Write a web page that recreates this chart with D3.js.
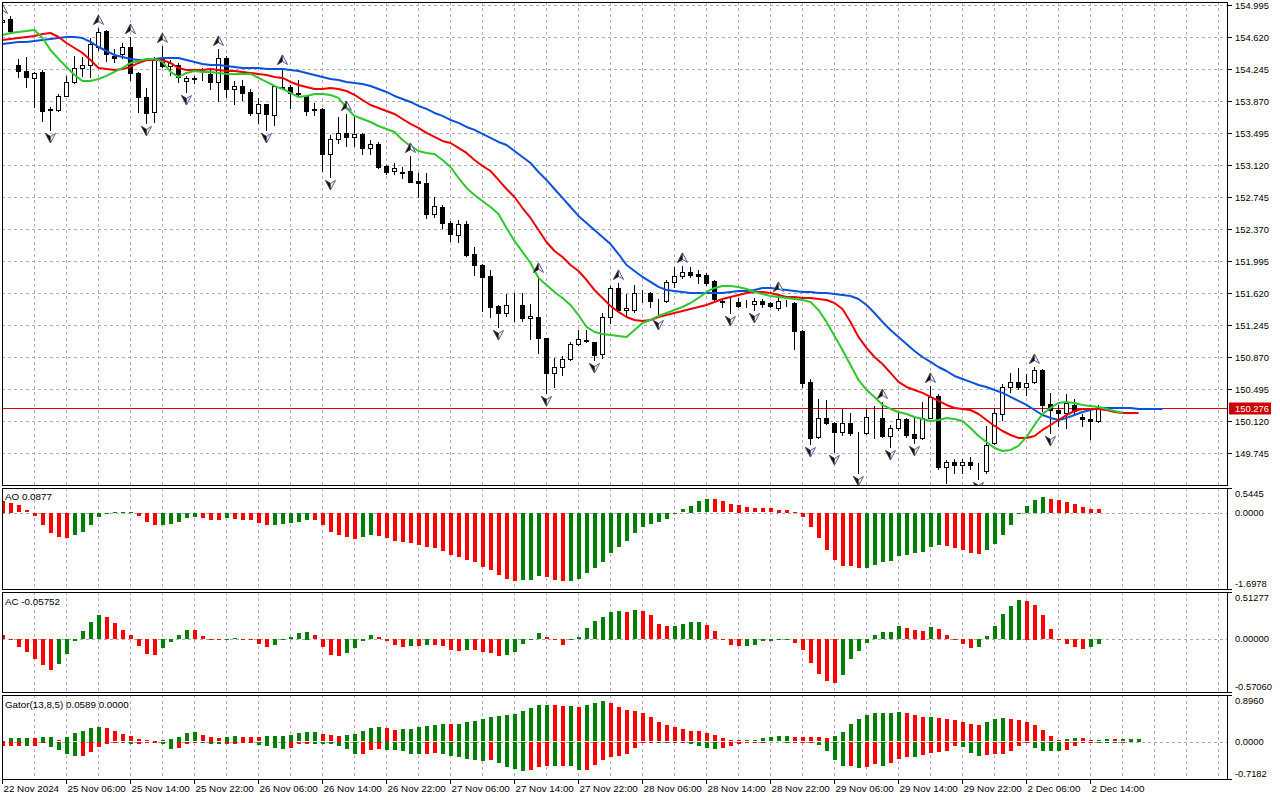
<!DOCTYPE html>
<html><head><meta charset="utf-8">
<script src="https://cdn.jsdelivr.net/npm/d3@7"></script>
<style>
html,body{margin:0;padding:0;background:#fff;}
svg{display:block;}
text{font-family:"Liberation Sans",Arial,sans-serif;}
</style></head><body>
<svg id="chart" width="1280" height="800"></svg>
<script>
// ---------------- data ----------------
const timeLabels = ["22 Nov 2024","25 Nov 06:00","25 Nov 14:00","25 Nov 22:00","26 Nov 06:00","26 Nov 14:00","26 Nov 22:00","27 Nov 06:00","27 Nov 14:00","27 Nov 22:00","28 Nov 06:00","28 Nov 14:00","28 Nov 22:00","29 Nov 06:00","29 Nov 14:00","29 Nov 22:00","2 Dec 06:00","2 Dec 14:00"];
const timeLabelBars = [0,8,16,24,32,40,48,56,64,72,80,88,96,104,112,120,128,136];
const priceTicks = [154.995,154.620,154.245,153.870,153.495,153.120,152.745,152.370,151.995,151.620,151.245,150.870,150.495,150.120,149.745];
const lastPrice = 150.276;

const openP = [154.796,154.831,154.292,154.222,154.140,154.210,153.777,153.765,153.929,154.093,
154.257,154.292,154.503,154.691,154.398,154.421,154.503,154.199,153.917,153.741,
154.363,154.281,154.292,154.105,154.140,154.140,154.187,154.093,154.374,154.011,
154.046,153.976,153.730,153.835,153.706,154.034,154.034,153.964,153.929,153.777,
153.777,153.249,153.425,153.495,153.449,153.484,153.320,153.366,153.109,153.050,
153.027,153.050,152.933,152.909,152.546,152.628,152.441,152.300,152.429,152.077,
151.948,151.820,151.468,151.386,151.480,151.480,151.327,151.339,151.093,150.683,
150.753,150.847,151.023,151.069,151.046,150.906,151.339,151.679,151.421,151.421,
151.620,151.620,151.538,151.527,151.749,151.820,151.866,151.843,151.831,151.761,
151.527,151.515,151.515,151.491,151.491,151.527,151.503,151.445,151.503,151.503,
151.175,150.577,149.933,150.156,150.097,149.991,150.097,149.980,149.980,150.167,
150.156,149.945,150.038,150.144,149.968,149.921,150.156,150.413,149.581,149.640,
149.605,149.640,149.534,149.534,149.863,150.202,150.519,150.577,150.519,150.577,
150.718,150.319,150.249,150.214,150.308,150.167,150.144,150.120];
const highP = [154.855,154.866,154.363,154.386,154.210,154.234,153.800,153.952,154.163,154.398,
154.386,154.609,154.726,154.702,154.480,154.550,154.620,154.210,154.023,154.386,
154.515,154.351,154.316,154.163,154.163,154.257,154.257,154.480,154.398,154.105,
154.117,154.011,153.906,153.840,154.050,154.257,154.058,154.117,153.941,153.847,
153.788,153.472,153.683,153.718,153.683,153.495,153.413,153.390,153.120,153.144,
153.097,153.226,153.027,153.027,152.745,152.652,152.464,152.476,152.464,152.160,
151.955,151.890,151.480,151.609,151.620,151.620,151.491,151.820,151.098,150.859,
150.882,151.046,151.187,151.187,151.050,151.386,151.702,151.738,151.609,151.714,
151.655,151.632,151.550,151.773,151.925,151.937,151.925,151.890,151.855,151.773,
151.562,151.562,151.562,151.538,151.562,151.550,151.515,151.597,151.538,151.515,
151.187,150.612,150.378,150.366,150.109,150.261,150.214,149.991,150.273,150.296,
150.343,150.073,150.226,150.156,150.156,150.343,150.531,150.437,149.663,149.675,
149.675,149.698,149.628,150.062,150.273,150.554,150.683,150.741,150.671,150.753,
150.730,150.448,150.308,150.437,150.378,150.202,150.273,150.308];
const lowP = [154.773,154.667,154.152,154.034,153.800,153.636,153.531,153.753,153.925,154.081,
154.163,154.152,154.468,154.339,154.327,154.374,154.117,153.741,153.613,153.624,
154.269,154.175,154.093,153.976,154.081,154.117,154.011,153.870,153.917,153.835,
153.882,153.706,153.613,153.531,153.589,154.011,153.788,153.917,153.706,153.706,
153.050,152.980,153.378,153.343,153.343,153.249,153.249,153.085,153.015,153.015,
152.968,152.915,152.745,152.499,152.511,152.382,152.230,152.218,152.054,151.831,
151.409,151.339,151.222,151.351,151.292,151.292,151.081,150.917,150.448,150.519,
150.659,150.835,151.011,151.046,150.835,150.859,151.269,151.398,151.339,151.398,
151.515,151.456,151.339,151.515,151.691,151.796,151.808,151.738,151.714,151.538,
151.456,151.386,151.456,151.456,151.421,151.456,151.456,151.421,151.468,150.964,
150.519,149.851,149.915,150.085,149.757,149.956,149.956,149.511,149.968,149.921,
149.933,149.816,150.015,149.933,149.863,149.910,150.150,149.558,149.394,149.511,
149.511,149.558,149.441,149.511,149.851,150.132,150.460,150.495,150.425,150.566,
150.237,149.980,150.062,150.038,150.214,150.062,149.909,150.109];
const closeP = [154.820,154.691,154.222,154.152,154.199,153.753,153.765,153.929,154.093,154.257,
154.292,154.538,154.679,154.421,154.374,154.503,154.199,153.917,153.730,154.363,
154.281,154.316,154.152,154.140,154.128,154.135,154.093,154.374,154.011,154.046,
153.964,153.730,153.835,153.718,154.046,154.023,153.964,153.952,153.753,153.765,
153.249,153.425,153.495,153.449,153.484,153.320,153.366,153.097,153.038,153.085,
153.038,152.921,152.909,152.546,152.640,152.441,152.312,152.429,152.066,151.948,
151.808,151.456,151.386,151.480,151.475,151.327,151.351,151.093,150.683,150.753,
150.847,151.023,151.081,151.058,150.894,151.339,151.679,151.421,151.445,151.620,
151.615,151.527,151.533,151.749,151.820,151.866,151.831,151.820,151.738,151.550,
151.515,151.510,151.468,151.487,151.527,151.491,151.468,151.527,151.499,151.175,
150.566,149.921,150.156,150.097,149.991,150.097,149.980,149.975,150.167,150.162,
149.945,150.038,150.144,149.956,149.921,150.156,150.402,149.581,149.640,149.605,
149.640,149.605,149.530,149.839,150.214,150.519,150.577,150.519,150.566,150.718,
150.308,150.249,150.214,150.331,150.237,150.144,150.120,150.276];

// Alligator (already shifted forward: jaw 8, teeth 5, lips 3 bars)
const jaw = [154.538,154.550,154.562,154.562,154.573,154.585,154.597,154.608,154.620,154.620,
154.608,154.562,154.503,154.456,154.409,154.386,154.363,154.351,154.351,154.363,
154.374,154.374,154.374,154.351,154.328,154.304,154.292,154.292,154.281,154.269,
154.257,154.257,154.257,154.246,154.246,154.246,154.234,154.222,154.199,154.175,
154.152,154.128,154.116,154.093,154.081,154.069,154.046,154.011,153.976,153.929,
153.894,153.859,153.812,153.777,153.730,153.695,153.648,153.613,153.566,153.531,
153.484,153.437,153.390,153.355,153.284,153.214,153.144,153.038,152.945,152.839,
152.734,152.628,152.523,152.441,152.359,152.277,152.194,152.077,151.948,151.878,
151.808,151.750,151.691,151.655,151.643,151.632,151.620,151.620,151.620,151.620,
151.620,151.632,151.643,151.643,151.655,151.679,151.679,151.667,151.655,151.643,
151.632,151.632,151.620,151.620,151.608,151.597,151.585,151.550,151.480,151.386,
151.281,151.187,151.105,151.023,150.940,150.870,150.812,150.753,150.706,150.648,
150.612,150.578,150.542,150.519,150.484,150.449,150.402,150.355,150.308,150.249,
150.190,150.156,150.132,150.156,150.190,150.226,150.249,150.273,150.273,150.273,
150.273,150.273,150.261,150.261,150.261,150.261];
const teeth = [154.585,154.597,154.608,154.620,154.632,154.655,154.667,154.620,154.550,154.491,
154.433,154.351,154.257,154.246,154.234,154.246,154.269,154.316,154.351,154.351,
154.351,154.316,154.257,154.234,154.234,154.234,154.246,154.234,154.222,154.222,
154.211,154.199,154.187,154.175,154.152,154.140,154.093,154.058,154.034,154.011,
154.011,154.022,154.011,153.987,153.941,153.882,153.823,153.788,153.753,153.718,
153.659,153.601,153.554,153.496,153.449,153.402,153.378,153.320,153.261,153.179,
153.109,153.050,152.945,152.839,152.745,152.616,152.499,152.359,152.218,152.112,
152.042,151.948,151.878,151.773,151.655,151.562,151.468,151.398,151.339,151.304,
151.292,151.304,151.339,151.362,151.386,151.409,151.433,151.456,151.480,151.515,
151.550,151.573,151.597,151.620,151.632,151.632,151.620,151.597,151.573,151.573,
151.562,151.562,151.550,151.538,151.503,151.433,151.281,151.105,150.976,150.870,
150.788,150.683,150.578,150.519,150.484,150.449,150.402,150.355,150.308,150.273,
150.261,150.249,150.202,150.132,150.062,150.003,149.956,149.921,149.921,149.945,
150.015,150.073,150.132,150.190,150.237,150.261,150.261,150.261,150.249,150.226,
150.214,150.214,150.214];
const lips = [154.644,154.667,154.679,154.691,154.702,154.608,154.468,154.363,154.269,154.175,
154.105,154.105,154.128,154.164,154.211,154.257,154.316,154.339,154.363,154.363,
154.328,154.211,154.152,154.199,154.222,154.211,154.211,154.199,154.187,154.187,
154.187,154.187,154.140,154.093,154.046,154.011,153.964,153.917,153.929,153.952,
153.952,153.941,153.906,153.788,153.695,153.659,153.624,153.577,153.542,153.507,
153.413,153.343,153.284,153.261,153.249,153.179,153.097,152.968,152.851,152.769,
152.698,152.628,152.546,152.382,152.230,152.101,151.972,151.796,151.714,151.632,
151.562,151.480,151.362,151.222,151.163,151.140,151.128,151.116,151.105,151.187,
151.269,151.304,151.351,151.386,151.421,151.456,151.503,151.562,151.632,151.679,
151.702,151.702,151.691,151.667,151.632,151.608,151.585,151.573,151.562,151.550,
151.538,151.515,151.421,151.281,151.116,150.952,150.777,150.601,150.484,150.402,
150.308,150.261,150.226,150.202,150.167,150.144,150.120,150.132,150.156,150.144,
150.120,150.038,149.945,149.874,149.804,149.769,149.781,149.828,149.933,150.073,
150.202,150.273,150.331,150.343,150.331,150.308,150.296,150.284,150.261,150.237,
150.214];

const fractalUp = [0,12,16,20,27,35,43,51,67,77,85,97,110,116,129];
const fractalDown = [6,18,23,33,41,62,68,74,82,91,94,101,104,107,111,114,118,122,131];

const aoPrev = 0.29;
const ao = [0.259,0.222,0.163,0.052,-0.074,-0.259,-0.451,-0.525,-0.548,-0.481,
-0.414,-0.259,-0.096,-0.004,0.004,0.006,0.020,-0.074,-0.207,-0.274,
-0.259,-0.255,-0.192,-0.118,-0.096,-0.118,-0.163,-0.165,-0.118,-0.141,
-0.145,-0.163,-0.215,-0.274,-0.270,-0.252,-0.229,-0.200,-0.145,-0.160,
-0.274,-0.414,-0.496,-0.525,-0.570,-0.540,-0.481,-0.503,-0.548,-0.614,
-0.644,-0.659,-0.718,-0.747,-0.777,-0.836,-0.925,-0.984,-1.036,-1.080,
-1.191,-1.265,-1.369,-1.458,-1.502,-1.487,-1.480,-1.391,-1.428,-1.482,
-1.517,-1.502,-1.458,-1.339,-1.214,-1.080,-0.895,-0.747,-0.618,-0.437,
-0.311,-0.237,-0.192,-0.126,-0.030,0.074,0.155,0.252,0.296,0.290,
0.252,0.185,0.170,0.118,0.096,0.094,0.092,0.067,0.065,0.022,
-0.089,-0.311,-0.555,-0.814,-1.036,-1.177,-1.185,-1.222,-1.215,-1.147,
-1.088,-1.066,-0.955,-0.925,-0.895,-0.866,-0.755,-0.703,-0.733,-0.770,
-0.821,-0.881,-0.903,-0.814,-0.688,-0.481,-0.259,-0.030,0.155,0.281,
0.348,0.303,0.281,0.237,0.200,0.133,0.089,0.0877];

const acPrev = 0.08;
const ac = [0.046,0.002,-0.082,-0.137,-0.217,-0.279,-0.337,-0.272,-0.162,-0.027,
0.086,0.184,0.264,0.243,0.173,0.100,0.046,-0.071,-0.162,-0.170,
-0.097,-0.035,0.046,0.100,0.098,0.035,0.002,-0.009,0.009,0.011,
-0.002,-0.005,-0.053,-0.082,-0.060,-0.013,0.024,0.067,0.082,0.046,
-0.082,-0.170,-0.181,-0.151,-0.097,-0.027,0.046,0.024,-0.020,-0.064,
-0.082,-0.075,-0.078,-0.060,-0.062,-0.071,-0.119,-0.126,-0.120,-0.122,
-0.144,-0.150,-0.181,-0.178,-0.137,-0.053,-0.005,0.067,0.024,-0.016,
-0.060,-0.016,0.024,0.122,0.195,0.246,0.301,0.305,0.298,0.318,
0.308,0.264,0.166,0.144,0.146,0.166,0.188,0.190,0.155,0.089,
0.002,-0.064,-0.075,-0.072,-0.060,-0.027,-0.020,-0.002,0.002,-0.038,
-0.119,-0.257,-0.378,-0.458,-0.480,-0.392,-0.213,-0.126,-0.038,0.046,
0.078,0.080,0.144,0.119,0.100,0.093,0.133,0.111,0.046,0.002,
-0.049,-0.093,-0.082,0.035,0.144,0.275,0.363,0.429,0.418,0.374,
0.264,0.111,-0.002,-0.049,-0.082,-0.104,-0.082,-0.05752];

const gatorUpPrev = 0.01;
const gatorUp = [0.006,0.070,0.070,0.071,0.068,0.090,0.092,0.026,0.090,0.160,
0.211,0.263,0.282,0.263,0.199,0.141,0.102,0.045,0.026,0.006,
0.026,0.051,0.090,0.160,0.179,0.122,0.090,0.064,0.090,0.109,
0.090,0.088,0.086,0.109,0.110,0.111,0.128,0.160,0.179,0.180,
0.141,0.122,0.109,0.122,0.141,0.199,0.263,0.282,0.263,0.218,
0.237,0.238,0.275,0.295,0.314,0.333,0.332,0.334,0.372,0.391,
0.429,0.468,0.487,0.506,0.525,0.583,0.641,0.698,0.700,0.697,
0.679,0.681,0.660,0.698,0.737,0.775,0.737,0.660,0.602,0.583,
0.545,0.468,0.372,0.314,0.275,0.237,0.199,0.197,0.160,0.122,
0.064,0.026,0.024,0.026,0.028,0.064,0.083,0.102,0.104,0.083,
0.082,0.081,0.080,0.079,0.102,0.179,0.333,0.429,0.506,0.545,
0.546,0.547,0.564,0.545,0.506,0.468,0.469,0.448,0.429,0.410,
0.372,0.333,0.314,0.372,0.429,0.448,0.429,0.410,0.372,0.314,
0.218,0.102,0.026,0.045,0.064,0.063,0.026,0.028,0.045,0.044,
0.046,0.058,0.0589];
const gatorDownPrev = -0.09;
const gatorDown = [-0.083,-0.070,-0.069,-0.071,-0.070,-0.013,-0.102,-0.160,-0.237,-0.275,
-0.273,-0.199,-0.102,-0.045,-0.013,-0.026,-0.032,-0.030,-0.013,-0.003,
-0.045,-0.141,-0.122,-0.032,-0.019,-0.020,-0.032,-0.045,-0.032,-0.030,
-0.019,-0.018,-0.051,-0.070,-0.122,-0.141,-0.122,-0.045,-0.032,-0.033,
-0.034,-0.045,-0.083,-0.141,-0.237,-0.224,-0.160,-0.141,-0.160,-0.161,
-0.179,-0.224,-0.237,-0.236,-0.218,-0.237,-0.275,-0.295,-0.333,-0.352,
-0.372,-0.352,-0.410,-0.487,-0.525,-0.564,-0.545,-0.487,-0.468,-0.469,
-0.460,-0.469,-0.545,-0.543,-0.448,-0.352,-0.295,-0.275,-0.237,-0.122,
-0.010,-0.005,-0.006,-0.026,-0.027,-0.005,-0.045,-0.083,-0.122,-0.141,
-0.122,-0.083,-0.045,-0.006,-0.005,-0.003,0,0,-0.013,-0.004,
-0.003,-0.002,-0.064,-0.179,-0.352,-0.468,-0.466,-0.506,-0.487,-0.429,
-0.468,-0.410,-0.333,-0.295,-0.296,-0.256,-0.218,-0.199,-0.179,-0.083,
-0.102,-0.218,-0.275,-0.256,-0.237,-0.236,-0.179,-0.083,-0.005,-0.122,
-0.179,-0.180,-0.181,-0.160,-0.083,-0.026,-0.024,-0.026,-0.027,-0.028,
-0.013,0,0];

const aoAxis = [0.5445, 0, -1.6978];
const acAxis = [0.51277, 0, -0.57060];
const gatorAxis = [0.8960, 0, -0.7182];

// ---------------- layout ----------------
const svg = d3.select("#chart");
const LEFT = 2, RIGHT = 1228;
const COL_UP = "#008000", COL_DN = "#ff0000";
const panels = {
  main:  {top: 2,   bottom: 485},
  ao:    {top: 488, bottom: 589},
  ac:    {top: 592, bottom: 692},
  gator: {top: 695, bottom: 779}
};

const x = d3.scaleLinear().domain([0, 1]).range([2, 10]);
const yMain = d3.scaleLinear().domain([149.745, 154.995]).range([453, 5]);
const yAO = d3.scaleLinear().domain([aoAxis[2], aoAxis[0]]).range([panels.ao.bottom, panels.ao.top]);
const yAC = d3.scaleLinear().domain([acAxis[2], acAxis[0]]).range([panels.ac.bottom, panels.ac.top]);
const yG = d3.scaleLinear().domain([gatorAxis[2], gatorAxis[0]]).range([panels.gator.bottom, panels.gator.top]);

const defs = svg.append("defs");
Object.entries(panels).forEach(([k, p]) => {
  defs.append("clipPath").attr("id", "clip-" + k)
    .append("rect").attr("x", LEFT).attr("y", p.top).attr("width", RIGHT - LEFT).attr("height", p.bottom - p.top);
});

// vertical grid (every 4 bars)
const gridBars = d3.range(4, 156, 4).filter(i => x(i) < RIGHT - 2);
Object.entries(panels).forEach(([k, p]) => {
  svg.append("g").selectAll("line").data(gridBars).join("line")
    .attr("x1", d => x(d) + 0.5).attr("x2", d => x(d) + 0.5)
    .attr("y1", p.top).attr("y2", p.bottom)
    .attr("stroke", "#c7a9c7").attr("stroke-width", 1).attr("stroke-dasharray", "3,3");
});
// horizontal grid in main
svg.append("g").selectAll("line").data(priceTicks).join("line")
  .attr("x1", LEFT).attr("x2", RIGHT)
  .attr("y1", d => Math.round(yMain(d)) + 0.5).attr("y2", d => Math.round(yMain(d)) + 0.5)
  .attr("stroke", "#a9b6a9").attr("stroke-width", 1).attr("stroke-dasharray", "3,3");
// zero lines in sub panels
[yAO, yAC, yG].forEach(ys => {
  svg.append("line").attr("x1", LEFT).attr("x2", RIGHT)
    .attr("y1", Math.round(ys(0)) + 0.5).attr("y2", Math.round(ys(0)) + 0.5)
    .attr("stroke", "#a8abbb").attr("stroke-width", 1).attr("stroke-dasharray", "3,3");
});

// ---------------- main chart ----------------
const gMain = svg.append("g").attr("clip-path", "url(#clip-main)");
gMain.append("line").attr("x1", LEFT).attr("x2", RIGHT)
  .attr("y1", Math.round(yMain(lastPrice)) + 0.5).attr("y2", Math.round(yMain(lastPrice)) + 0.5)
  .attr("stroke", "#e00000").attr("stroke-width", 1);

const bars = openP.map((o, i) => ({i, o, h: highP[i], l: lowP[i], c: closeP[i]}));
const gC = gMain.append("g").attr("shape-rendering", "crispEdges");
gC.selectAll("line.wick").data(bars).join("line").attr("class", "wick")
  .attr("x1", d => x(d.i) + 0.5).attr("x2", d => x(d.i) + 0.5)
  .attr("y1", d => Math.round(yMain(d.h))).attr("y2", d => Math.round(yMain(d.l)) + 1)
  .attr("stroke", "#000").attr("stroke-width", 1);
gC.selectAll("rect.body").data(bars).join("rect").attr("class", "body")
  .attr("x", d => x(d.i) - 1.5)
  .attr("y", d => Math.round(yMain(Math.max(d.o, d.c))) + 0.5)
  .attr("width", 4)
  .attr("height", d => Math.max(0, Math.round(yMain(Math.min(d.o, d.c))) - Math.round(yMain(Math.max(d.o, d.c)))))
  .attr("fill", d => d.c >= d.o ? "#fff" : "#000")
  .attr("stroke", "#000").attr("stroke-width", 1);

// alligator
const lineGen = ys => d3.line().x((d, i) => x(i) + 0.5).y(d => ys(d));
gMain.append("path").datum(jaw).attr("d", lineGen(yMain)).attr("fill", "none")
  .attr("stroke", "#0a52dc").attr("stroke-width", 2).attr("stroke-linejoin", "round");
gMain.append("path").datum(teeth).attr("d", lineGen(yMain)).attr("fill", "none")
  .attr("stroke", "#f00000").attr("stroke-width", 2).attr("stroke-linejoin", "round");
gMain.append("path").datum(lips).attr("d", lineGen(yMain)).attr("fill", "none")
  .attr("stroke", "#2ec82e").attr("stroke-width", 2).attr("stroke-linejoin", "round");

// fractals (two-tone arrowheads)
function drawFractals(idx, isUp) {
  const s = isUp ? 1 : -1;
  const full = `M0,${-5*s} L5,${4.5*s} L0,${1.5*s} L-5,${4.5*s} Z`;
  const half = `M0,${-5*s} L-5,${4.5*s} L0,${1.5*s} Z`;
  const g = gMain.append("g").selectAll("g").data(idx).join("g")
    .attr("transform", d => `translate(${x(d) + 0.5},${isUp ? yMain(highP[d]) - 8 : yMain(lowP[d]) + 8})`);
  g.append("path").attr("d", full).attr("fill", "#eef0f8").attr("stroke", "#3b4f9a").attr("stroke-width", 0.9).attr("stroke-linejoin", "round");
  g.append("path").attr("d", half).attr("fill", "#111").attr("stroke", "#5a3a20").attr("stroke-width", 0.6);
}
drawFractals(fractalUp, true);
drawFractals(fractalDown, false);

// ---------------- histograms ----------------
function colorsByChange(arr, prev, useAbs) {
  let p = prev, lastCol = COL_UP;
  return arr.map(v => {
    const a = useAbs ? Math.abs(v) : v, b = useAbs ? Math.abs(p) : p;
    const col = a > b ? COL_UP : (a < b ? COL_DN : lastCol);
    lastCol = col; p = v; return col;
  });
}
function histogram(key, arr, prev, ys, useAbs) {
  const cols = colorsByChange(arr, prev, useAbs);
  const z = ys(0);
  svg.append("g").attr("clip-path", "url(#clip-" + key + ")").attr("shape-rendering", "crispEdges")
    .selectAll("rect").data(arr.map((v, i) => ({v, i, c: cols[i]})).filter(d => d.v !== 0)).join("rect")
    .attr("x", d => x(d.i) - 1.5)
    .attr("width", 4)
    .attr("y", d => Math.round(Math.min(z, ys(d.v))))
    .attr("height", d => Math.max(1, Math.round(Math.abs(ys(d.v) - z))))
    .attr("fill", d => d.c);
}
histogram("ao", ao, aoPrev, yAO, false);
histogram("ac", ac, acPrev, yAC, false);
histogram("gator", gatorUp, gatorUpPrev, yG, true);
histogram("gator", gatorDown, gatorDownPrev, yG, true);

// ---------------- frames ----------------
Object.values(panels).forEach(p => {
  svg.append("rect").attr("x", LEFT + 0.5).attr("y", p.top + 0.5)
    .attr("width", RIGHT - LEFT - 1).attr("height", p.bottom - p.top)
    .attr("fill", "none").attr("stroke", "#000").attr("stroke-width", 1);
});

// ---------------- axes ----------------
const fs = "9.4px";
const gAx = svg.append("g");
priceTicks.forEach(t => {
  const yy = Math.round(yMain(t)) + 0.5;
  gAx.append("line").attr("x1", RIGHT).attr("x2", RIGHT + 4).attr("y1", yy).attr("y2", yy).attr("stroke", "#000");
  gAx.append("text").attr("x", RIGHT + 7).attr("y", yy + 3.5).attr("font-size", fs).attr("fill", "#000").text(t.toFixed(3));
});
const yl = Math.round(yMain(lastPrice)) + 0.5;
gAx.append("rect").attr("x", RIGHT + 1).attr("y", yl - 6).attr("width", 42).attr("height", 12).attr("fill", "#cc0000");
gAx.append("text").attr("x", RIGHT + 7).attr("y", yl + 3.5).attr("font-size", fs).attr("fill", "#fff").text(lastPrice.toFixed(3));

function subAxis(vals, ys, p, digits) {
  const pos = [p.top + 9, ys(0) + 3, p.bottom - 2];
  vals.forEach((v, k) => {
    gAx.append("text").attr("x", RIGHT + 7).attr("y", pos[k]).attr("font-size", fs).attr("fill", "#000").text(v.toFixed(digits));
  });
  [p.top + 0.5, p.bottom + 0.5].forEach(yy => {
    gAx.append("line").attr("x1", RIGHT).attr("x2", RIGHT + 4).attr("y1", yy).attr("y2", yy).attr("stroke", "#000");
  });
}
subAxis(aoAxis, yAO, panels.ao, 4);
subAxis(acAxis, yAC, panels.ac, 5);
subAxis(gatorAxis, yG, panels.gator, 4);

// indicator captions
svg.append("text").attr("x", 5).attr("y", panels.ao.top + 12).attr("font-size", "9.8px").attr("fill", "#000")
  .text("AO " + ao[ao.length - 1].toFixed(4));
svg.append("text").attr("x", 5).attr("y", panels.ac.top + 13).attr("font-size", "9.8px").attr("fill", "#000")
  .text("AC " + ac[ac.length - 1].toFixed(5));
svg.append("text").attr("x", 5).attr("y", panels.gator.top + 13).attr("font-size", "9.8px").attr("fill", "#000")
  .text("Gator(13,8,5) " + gatorUp[gatorUp.length - 1].toFixed(4) + " " + Math.abs(gatorDown[gatorDown.length - 1]).toFixed(4));

// time axis
const gT = svg.append("g");
timeLabels.forEach((lab, k) => {
  const xx = x(timeLabelBars[k]) + 0.5;
  gT.append("line").attr("x1", xx).attr("x2", xx).attr("y1", panels.gator.bottom).attr("y2", panels.gator.bottom + 5).attr("stroke", "#000");
  gT.append("text").attr("x", xx + 1).attr("y", panels.gator.bottom + 13).attr("font-size", "9.8px").attr("fill", "#000").text(lab);
});
</script>
</body></html>
